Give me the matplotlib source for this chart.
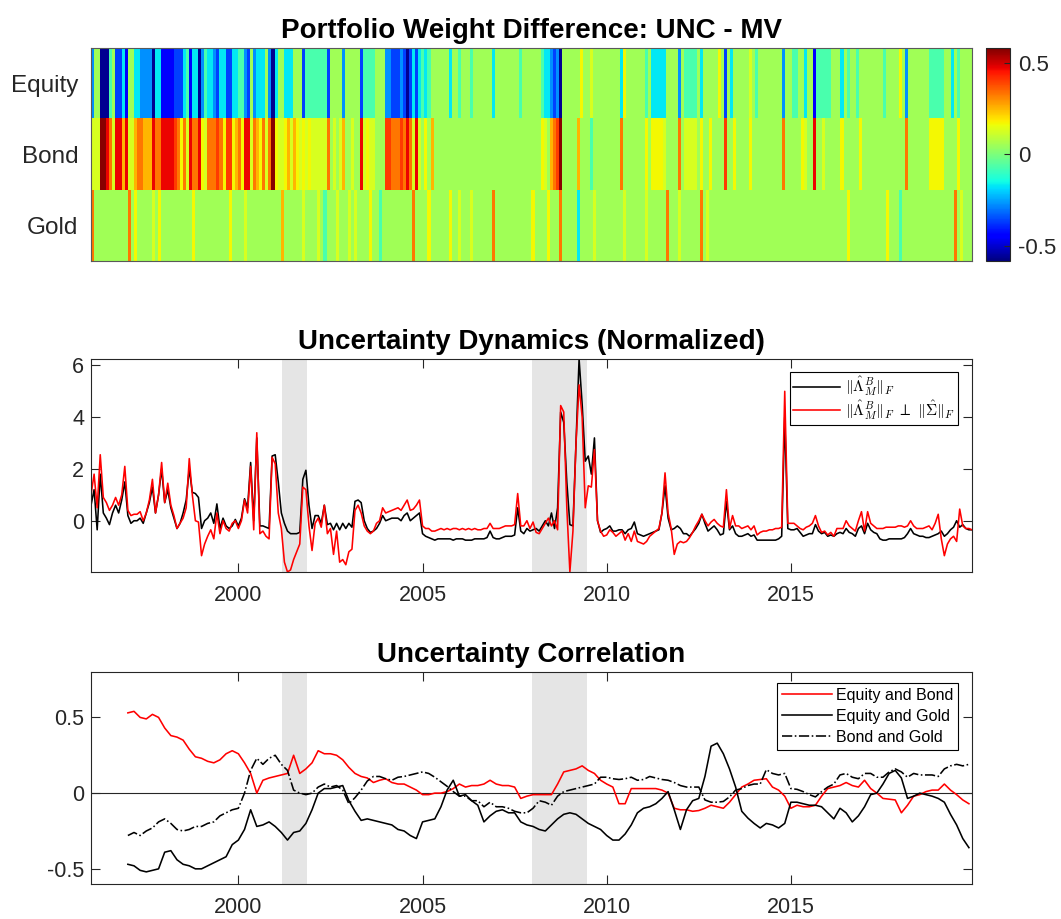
import numpy as np
import matplotlib
matplotlib.use("Agg")
import matplotlib.pyplot as plt

plt.rcParams.update({
    "font.family": ["Liberation Sans", "DejaVu Sans"],
    "mathtext.fontset": "cm",
    "axes.unicode_minus": False,
    "axes.edgecolor": "#262626",
    "xtick.color": "#262626",
    "ytick.color": "#262626",
})

# ---- data ---------------------------------------------------------------

START_YEAR = 1996          # monthly sample, Jan 1996 .. Dec 2019
assets = ["Equity", "Bond", "Gold"]

# weight difference (UNC - MV) per month, one code per month, 12 per year
weight_levels = {
    "N": -0.56, "B": -0.45, "b": -0.36, "C": -0.27, "c": -0.17, "a": -0.07,
    "g": 0.05, "y": 0.13, "Y": 0.17, "o": 0.25, "O": 0.33, "r": 0.40,
    "R": 0.47, "D": 0.57,
}
equity_codes = [
    "CggNNNagbbcB", "ggccCCCCNccB", "BBBbbbcaBccN", "CaccCbccbbcc",
    "aaCbgCcccgCN", "cggcccgggbaa", "aaaaabggggCg", "ggggbaaaaggg",
    "CCbbbCbNbcbc", "acaggggggcgg", "agggaggggggc", "ggggggggaggg",
    "gggaccCbCNgg", "ggggYggygggg", "gggggcYggggg", "gagcccccgggg",
    "Cgaaaagcgggg", "gYgbgcgggggy", "gaggggggggCg", "gaaggcggBaaa",
    "aagggcgaggag", "gggggggagggg", "YgCgggggggaa", "aaaggcgagggg",
]
bond_codes = [
    "yyyDDROyRRoR", "yyoOOoooROOR", "RRRrOYOyROOR", "YyOOOrOYrrYo",
    "OYRRyOoYOyOD", "YyyYoyoYyYyY", "yyyyyOgygyog", "gyggRyYyyggg",
    "rrOOOrOROyRy", "gYgogggggggg", "gggggggggggg", "gggggggggggg",
    "gggYygoOrDgg", "gggogggagggg", "gggggOgggggg", "gYgYYYYygggg",
    "OgyyyygYggYg", "gggrggYggggY", "ggggggggggOg", "ggggYyggRggy",
    "gggggYgggggY", "gggggggggggg", "ggOgggggggYY", "YYYggggYgggg",
]
gold_codes = [
    "Oggggggggggg", "OgYgggggygYg", "gggggggggYgg", "gggggggggYgg",
    "ggyggggggggg", "ggoggggggygg", "ggygagggyggg", "ygyggggYggag",
    "gggggggggOgg", "ggYggggggYgg", "ygggyggggggO", "gggggggggggg",
    "YggggYgggOgg", "gggcggggyggg", "ggggggyggggg", "gyggggggOggg",
    "yggggggOgygg", "gggggggggggg", "gggggggggggg", "gggggggggggg",
    "gggggggYgggg", "ggggggggYggg", "aggggggggggg", "ggggggOgyggg",
]

# normalized uncertainty, monthly
unc_raw = [
    0.6, 1.2, -0.35, 1.8, 0.3, 0.1, -0.15, 0.3, 0.6, 0.3, 0.8, 1.5,
    0.2, -0.1, 0.0, 0.0, 0.1, -0.1, 0.3, 0.7, 1.3, 0.3, 1.0, 2.0,
    0.7, 1.2, 0.5, 0.1, -0.3, -0.1, 0.3, 0.8, 2.0, 1.1, 1.05, 0.9,
    -0.3, 0.0, 0.1, 0.3, -0.1, 0.65, -0.3, 0.1, -0.2, -0.3, -0.2, 0.05,
    -0.2, 0.1, 0.85, 0.5, 2.25, 0.0, 3.2, -0.2, -0.2, -0.25, -0.3, 2.5,
    2.55, 1.5, 0.3, -0.1, -0.4, -0.5, -0.5, -0.5, -0.45, 1.6, 1.95, 0.6,
    -0.3, 0.2, 0.2, -0.1, 0.6, -0.15, -0.1, -0.35, -0.1, -0.35, -0.1, -0.3,
    -0.1, -0.25, 0.75, 0.8, 0.7, 0.0, -0.3, -0.45, -0.4, -0.3, -0.1, 0.2,
    0.0, 0.05, 0.1, 0.1, 0.1, 0.0, 0.2, 0.3, 0.0, 0.1, 0.2, 0.3,
    -0.5, -0.6, -0.65, -0.7, -0.75, -0.7, -0.7, -0.7, -0.7, -0.7, -0.75, -0.7,
    -0.7, -0.7, -0.75, -0.75, -0.75, -0.7, -0.7, -0.7, -0.7, -0.65, -0.4, -0.65,
    -0.7, -0.7, -0.65, -0.6, -0.6, -0.6, -0.55, 0.5, -0.4, -0.5, -0.3, -0.4,
    -0.35, -0.3, -0.4, -0.2, 0.0, -0.2, 0.3, -0.3, 0.5, 4.2, 3.8, 1.5,
    -0.15, -0.2, 3.0, 6.25, 4.5, 2.3, 2.5, 1.8, 3.2, 0.0, -0.45, -0.35,
    -0.3, -0.2, -0.4, -0.4, -0.35, -0.35, -0.5, -0.35, -0.3, -0.05, -0.5, -0.55,
    -0.6, -0.55, -0.5, -0.45, -0.4, -0.35, 0.3, 1.35, 0.1, -0.35, -0.3, -0.2,
    -0.3, -0.5, -0.5, -0.6, -0.45, -0.3, -0.1, 0.25, -0.1, -0.4, -0.3, -0.2,
    -0.35, -0.55, -0.5, 0.75, -0.35, -0.2, -0.5, -0.6, -0.6, -0.55, -0.5, -0.6,
    -0.55, -0.75, -0.75, -0.75, -0.75, -0.75, -0.75, -0.75, -0.7, -0.6, 4.0, -0.3,
    -0.35, -0.35, -0.3, -0.45, -0.6, -0.55, -0.5, -0.5, -0.15, -0.4, -0.5, -0.45,
    -0.6, -0.55, -0.6, -0.5, -0.45, -0.5, -0.3, -0.45, -0.5, -0.6, -0.3, -0.2,
    -0.5, -0.1, -0.35, -0.45, -0.5, -0.7, -0.75, -0.75, -0.7, -0.7, -0.7, -0.7,
    -0.7, -0.65, -0.5, -0.3, -0.5, -0.55, -0.6, -0.6, -0.65, -0.65, -0.6, -0.55,
    -0.5, -0.4, -0.6, -0.5, -0.35, -0.25, 0.0, -0.25, -0.15, -0.3, -0.35, -0.35,
]
unc_orth = [
    1.0, 1.8, 0.5, 2.55, 0.9, 0.7, 0.4, 0.6, 0.9, 0.6, 1.0, 2.1,
    0.4, 0.2, 0.25, 0.25, 0.35, 0.0, 0.3, 0.8, 1.6, 0.3, 1.0, 2.25,
    0.7, 1.45, 0.6, 0.2, -0.3, -0.1, 0.1, 0.5, 2.4, 1.0, 0.0, -0.05,
    -1.35, -0.9, -0.6, -0.35, -0.7, 0.3, -0.5, 0.0, -0.3, -0.4, -0.1, 0.0,
    -0.3, 0.0, 0.8, 0.3, 2.1, -0.35, 3.4, -0.5, -0.4, -0.6, -0.7, 2.45,
    2.2, 0.3, -0.3, -1.6, -1.98, -1.9, -1.5, -1.2, -0.9, 1.3, 1.2, -0.2,
    -1.15, -0.1, 0.1, -0.25, 0.6, -0.5, -0.3, -1.3, -0.4, -1.6, -1.5, -1.7,
    -1.2, -1.1, 0.4, 0.6, 0.3, -0.2, -0.4, -0.5, -0.4, -0.1, 0.0, 0.5,
    0.3, 0.35, 0.4, 0.45, 0.5, 0.4, 0.6, 0.8, 0.4, 0.45, 0.6, 0.8,
    -0.2, -0.3, -0.3, -0.4, -0.4, -0.35, -0.3, -0.35, -0.3, -0.35, -0.3, -0.3,
    -0.35, -0.3, -0.35, -0.3, -0.35, -0.3, -0.35, -0.35, -0.3, -0.3, -0.1, -0.3,
    -0.3, -0.3, -0.25, -0.2, -0.2, -0.2, -0.15, 1.05, -0.2, -0.2, 0.0, -0.3,
    -0.05, -0.45, -0.5, -0.3, -0.1, 0.1, -0.2, 0.0, -0.35, 4.45, 4.2, 0.5,
    -1.98, -0.4, 3.0, 5.25, 4.0, 0.5, 1.35, 1.3, 2.75, 0.0, -0.4, -0.6,
    -0.55, -0.35, -0.45, -0.6, -0.5, -0.4, -0.75, -0.5, -0.8, -0.4, -0.8, -0.85,
    -0.9, -0.8, -0.6, -0.5, -0.4, -0.3, 0.3, 1.85, 0.3, -0.3, -1.3, -0.9,
    -0.8, -0.85, -0.8, -0.65, -0.45, -0.2, 0.0, 0.25, 0.0, -0.2, -0.05, 0.05,
    -0.1, -0.2, -0.25, 1.2, -0.3, 0.2, -0.2, -0.2, -0.3, -0.25, -0.2, -0.35,
    -0.2, -0.55, -0.45, -0.4, -0.4, -0.35, -0.35, -0.3, -0.3, -0.25, 5.0, -0.1,
    -0.1, -0.1, -0.2, -0.3, -0.35, -0.25, -0.2, -0.1, 0.2, -0.2, -0.45, -0.4,
    -0.55, -0.45, -0.6, -0.3, -0.3, -0.3, 0.0, -0.2, -0.3, -0.4, 0.0, 0.35,
    -0.4, 0.35, -0.1, -0.2, -0.3, -0.3, -0.3, -0.25, -0.25, -0.25, -0.25, -0.2,
    -0.2, -0.25, -0.2, 0.0, -0.2, -0.3, -0.3, -0.3, -0.25, -0.2, -0.35, -0.1,
    0.25, -0.7, -1.35, -0.9, -0.7, -0.6, -0.8, 0.45, -0.2, -0.3, -0.3, -0.35,
]

# rolling uncertainty correlations, every other month from Jan 1997
corr_eq_bond = [
    0.53, 0.54, 0.50, 0.49, 0.52, 0.50,
    0.43, 0.38, 0.37, 0.35, 0.29, 0.24,
    0.23, 0.21, 0.20, 0.22, 0.26, 0.28,
    0.26, 0.20, 0.13, 0.00, 0.085, 0.10,
    0.11, 0.12, 0.13, 0.25, 0.13, 0.16,
    0.20, 0.28, 0.26, 0.26, 0.25, 0.22,
    0.17, 0.13, 0.11, 0.10, 0.07, 0.085,
    0.095, 0.07, 0.06, 0.06, 0.04, 0.02,
    -0.01, -0.01, 0.00, 0.00, 0.01, 0.03,
    0.06, 0.04, 0.05, 0.05, 0.06, 0.085,
    0.06, 0.05, 0.05, 0.04, -0.035, -0.02,
    -0.01, -0.01, -0.01, -0.01, 0.06, 0.14,
    0.15, 0.16, 0.18, 0.15, 0.13, 0.085,
    0.06, 0.04, -0.07, -0.07, 0.03, 0.03,
    0.03, 0.03, 0.03, 0.02, 0.00, -0.10,
    -0.11, -0.11, -0.12, -0.115, -0.10, -0.08,
    -0.09, -0.10, -0.06, -0.01, 0.04, 0.06,
    0.085, 0.09, 0.095, 0.04, 0.02, -0.02,
    -0.10, -0.08, -0.09, -0.09, -0.08, -0.02,
    0.03, 0.04, 0.05, 0.07, 0.05, 0.04,
    0.085, 0.03, 0.00, -0.035, -0.04, -0.045,
    -0.13, -0.08, -0.02, -0.01, 0.01, 0.02,
    0.02, 0.06, 0.02, -0.01, -0.045, -0.07,
]
corr_eq_gold = [
    -0.47, -0.48, -0.51, -0.52, -0.51, -0.50,
    -0.39, -0.38, -0.44, -0.47, -0.48, -0.50,
    -0.50, -0.48, -0.46, -0.44, -0.42, -0.34,
    -0.31, -0.24, -0.11, -0.22, -0.21, -0.19,
    -0.22, -0.26, -0.31, -0.26, -0.25, -0.20,
    -0.11, 0.00, 0.03, 0.03, 0.04, 0.05,
    -0.05, -0.12, -0.18, -0.17, -0.18, -0.19,
    -0.20, -0.21, -0.24, -0.25, -0.28, -0.30,
    -0.19, -0.18, -0.17, -0.09, 0.02, 0.085,
    -0.02, -0.01, -0.05, -0.08, -0.19, -0.15,
    -0.12, -0.11, -0.13, -0.13, -0.19, -0.21,
    -0.22, -0.24, -0.25, -0.21, -0.17, -0.14,
    -0.13, -0.14, -0.17, -0.20, -0.22, -0.24,
    -0.28, -0.31, -0.31, -0.27, -0.21, -0.13,
    -0.10, -0.09, -0.07, -0.035, 0.01, -0.11,
    -0.24, -0.11, -0.05, -0.035, 0.11, 0.31,
    0.33, 0.26, 0.16, 0.04, -0.12, -0.165,
    -0.20, -0.23, -0.20, -0.21, -0.23, -0.20,
    -0.06, -0.06, -0.07, -0.08, -0.08, -0.09,
    -0.13, -0.17, -0.10, -0.13, -0.19, -0.15,
    -0.09, -0.01, 0.00, 0.06, 0.13, 0.15,
    0.10, -0.035, -0.02, 0.00, -0.01, -0.02,
    -0.035, -0.06, -0.14, -0.21, -0.30, -0.36,
]
corr_bond_gold = [
    -0.28, -0.26, -0.28, -0.25, -0.23, -0.19,
    -0.17, -0.20, -0.24, -0.25, -0.24, -0.22,
    -0.22, -0.20, -0.19, -0.15, -0.13, -0.11,
    -0.10, 0.00, 0.15, 0.23, 0.19, 0.23,
    0.25, 0.19, 0.15, 0.02, 0.00, -0.01,
    0.00, 0.04, 0.06, 0.04, 0.05, 0.02,
    -0.07, -0.03, 0.02, 0.08, 0.11, 0.11,
    0.095, 0.085, 0.105, 0.11, 0.12, 0.13,
    0.14, 0.13, 0.105, 0.075, 0.045, 0.01,
    -0.02, -0.02, -0.05, -0.05, -0.09, -0.06,
    -0.09, -0.09, -0.10, -0.12, -0.13, -0.13,
    -0.10, -0.05, -0.06, -0.08, -0.02, 0.01,
    0.02, 0.03, 0.04, 0.05, 0.06, 0.105,
    0.105, 0.095, 0.09, 0.095, 0.105, 0.085,
    0.09, 0.11, 0.10, 0.09, 0.085, 0.07,
    0.05, 0.04, 0.04, 0.04, -0.045, -0.06,
    -0.06, -0.055, -0.025, 0.02, 0.03, 0.05,
    0.06, 0.06, 0.155, 0.13, 0.12, 0.13,
    0.03, 0.025, 0.01, -0.01, -0.025, 0.01,
    0.04, 0.06, 0.12, 0.13, 0.105, 0.095,
    0.13, 0.13, 0.105, 0.105, 0.14, 0.16,
    0.14, 0.105, 0.13, 0.12, 0.12, 0.12,
    0.11, 0.16, 0.18, 0.19, 0.18, 0.19,
]

# NBER recessions (decimal years)
recessions = [(2001.19, 2001.86), (2007.96, 2009.46)]

# ---- figure -------------------------------------------------------------

weights = np.array([[weight_levels[c] for c in "".join(codes)]
                    for codes in (equity_codes, bond_codes, gold_codes)])
months = START_YEAR + np.arange(len(unc_raw)) / 12
corr_months = START_YEAR + (12 + 2 * np.arange(len(corr_eq_bond))) / 12

fig = plt.figure(figsize=(10.61, 9.19), dpi=100)
ax_w = fig.add_axes([0.0858, 0.716, 0.8303, 0.2318])
cax = fig.add_axes([0.9293, 0.716, 0.0226, 0.2318])
ax_u = fig.add_axes([0.0858, 0.3776, 0.8303, 0.2318])
ax_c = fig.add_axes([0.0858, 0.0381, 0.8303, 0.2307])

TITLE = dict(fontsize=20, fontweight="bold", color="k", pad=7)

# heatmap of weight differences
im = ax_w.imshow(weights, aspect="auto", cmap="jet", vmin=-0.58, vmax=0.58,
                 interpolation="nearest", extent=(0, weights.shape[1], 3, 0))
ax_w.set_yticks([0.5, 1.5, 2.5], assets)
ax_w.set_xticks([])
ax_w.tick_params(axis="y", length=0, labelsize=17.5, pad=9)
for s in ax_w.spines.values():
    s.set_color("#595959")
ax_w.set_title("Portfolio Weight Difference: UNC - MV", **TITLE)

cb = fig.colorbar(im, cax=cax, ticks=[-0.5, 0, 0.5])
cb.ax.set_yticklabels(["-0.5", "0", "0.5"])
cb.ax.tick_params(labelsize=16, direction="in", length=4, pad=6)
cb.outline.set_edgecolor("#262626")


def style_lines(ax):
    ax.set_xlim(months[0], months[-1])
    ax.set_xticks([2000, 2005, 2010, 2015])
    ax.tick_params(direction="in", length=6.3, width=0.8, labelsize=15.5,
                   top=True, right=True)
    ax.tick_params(axis="x", pad=9.2)
    ax.tick_params(axis="y", pad=5)
    for lo, hi in recessions:
        ax.axvspan(lo, hi, color="#e5e5e5", lw=0, zorder=0)


# normalized uncertainty
style_lines(ax_u)
ax_u.plot(months, unc_raw, color="k", lw=1.15,
          label=r"$\Vert\hat{\Lambda}^B_M\Vert_F$")
ax_u.plot(months, unc_orth, color="r", lw=1.15,
          label=r"$\Vert\hat{\Lambda}^B_M\Vert_F\ \perp\ \Vert\hat{\Sigma}\Vert_F$")
all_u = np.concatenate([unc_raw, unc_orth])
ax_u.set_ylim(all_u.min(), all_u.max())
ax_u.set_yticks([0, 2, 4, 6])
ax_u.set_title("Uncertainty Dynamics (Normalized)", **TITLE)
leg = ax_u.legend(loc="upper right", bbox_to_anchor=(0.984, 0.939),
                  borderaxespad=0, fontsize=11.2, fancybox=False,
                  edgecolor="k", framealpha=1, handlelength=3.0,
                  borderpad=0.2, labelspacing=0.0, handletextpad=0.3)
leg.get_frame().set_linewidth(0.8)

# uncertainty correlations
style_lines(ax_c)
ax_c.axhline(0, color="#262626", lw=0.8, zorder=1)
ax_c.plot(corr_months, corr_eq_bond, color="r", lw=1.15, label="Equity and Bond")
ax_c.plot(corr_months, corr_eq_gold, color="k", lw=1.15, label="Equity and Gold")
ax_c.plot(corr_months, corr_bond_gold, color="k", lw=1.15, ls="-.",
          label="Bond and Gold")
ax_c.set_ylim(-0.6, 0.8)
ax_c.set_yticks([-0.5, 0, 0.5])
ax_c.set_yticklabels(["-0.5", "0", "0.5"])
ax_c.set_title("Uncertainty Correlation", **TITLE)
leg = ax_c.legend(loc="upper right", bbox_to_anchor=(0.984, 0.948),
                  borderaxespad=0, fontsize=11.5, fancybox=False,
                  edgecolor="k", framealpha=1, handlelength=3.1,
                  borderpad=0.3, labelspacing=0.38, handletextpad=0.25)
leg.get_frame().set_linewidth(0.8)

fig.savefig("out.png", dpi=100)
